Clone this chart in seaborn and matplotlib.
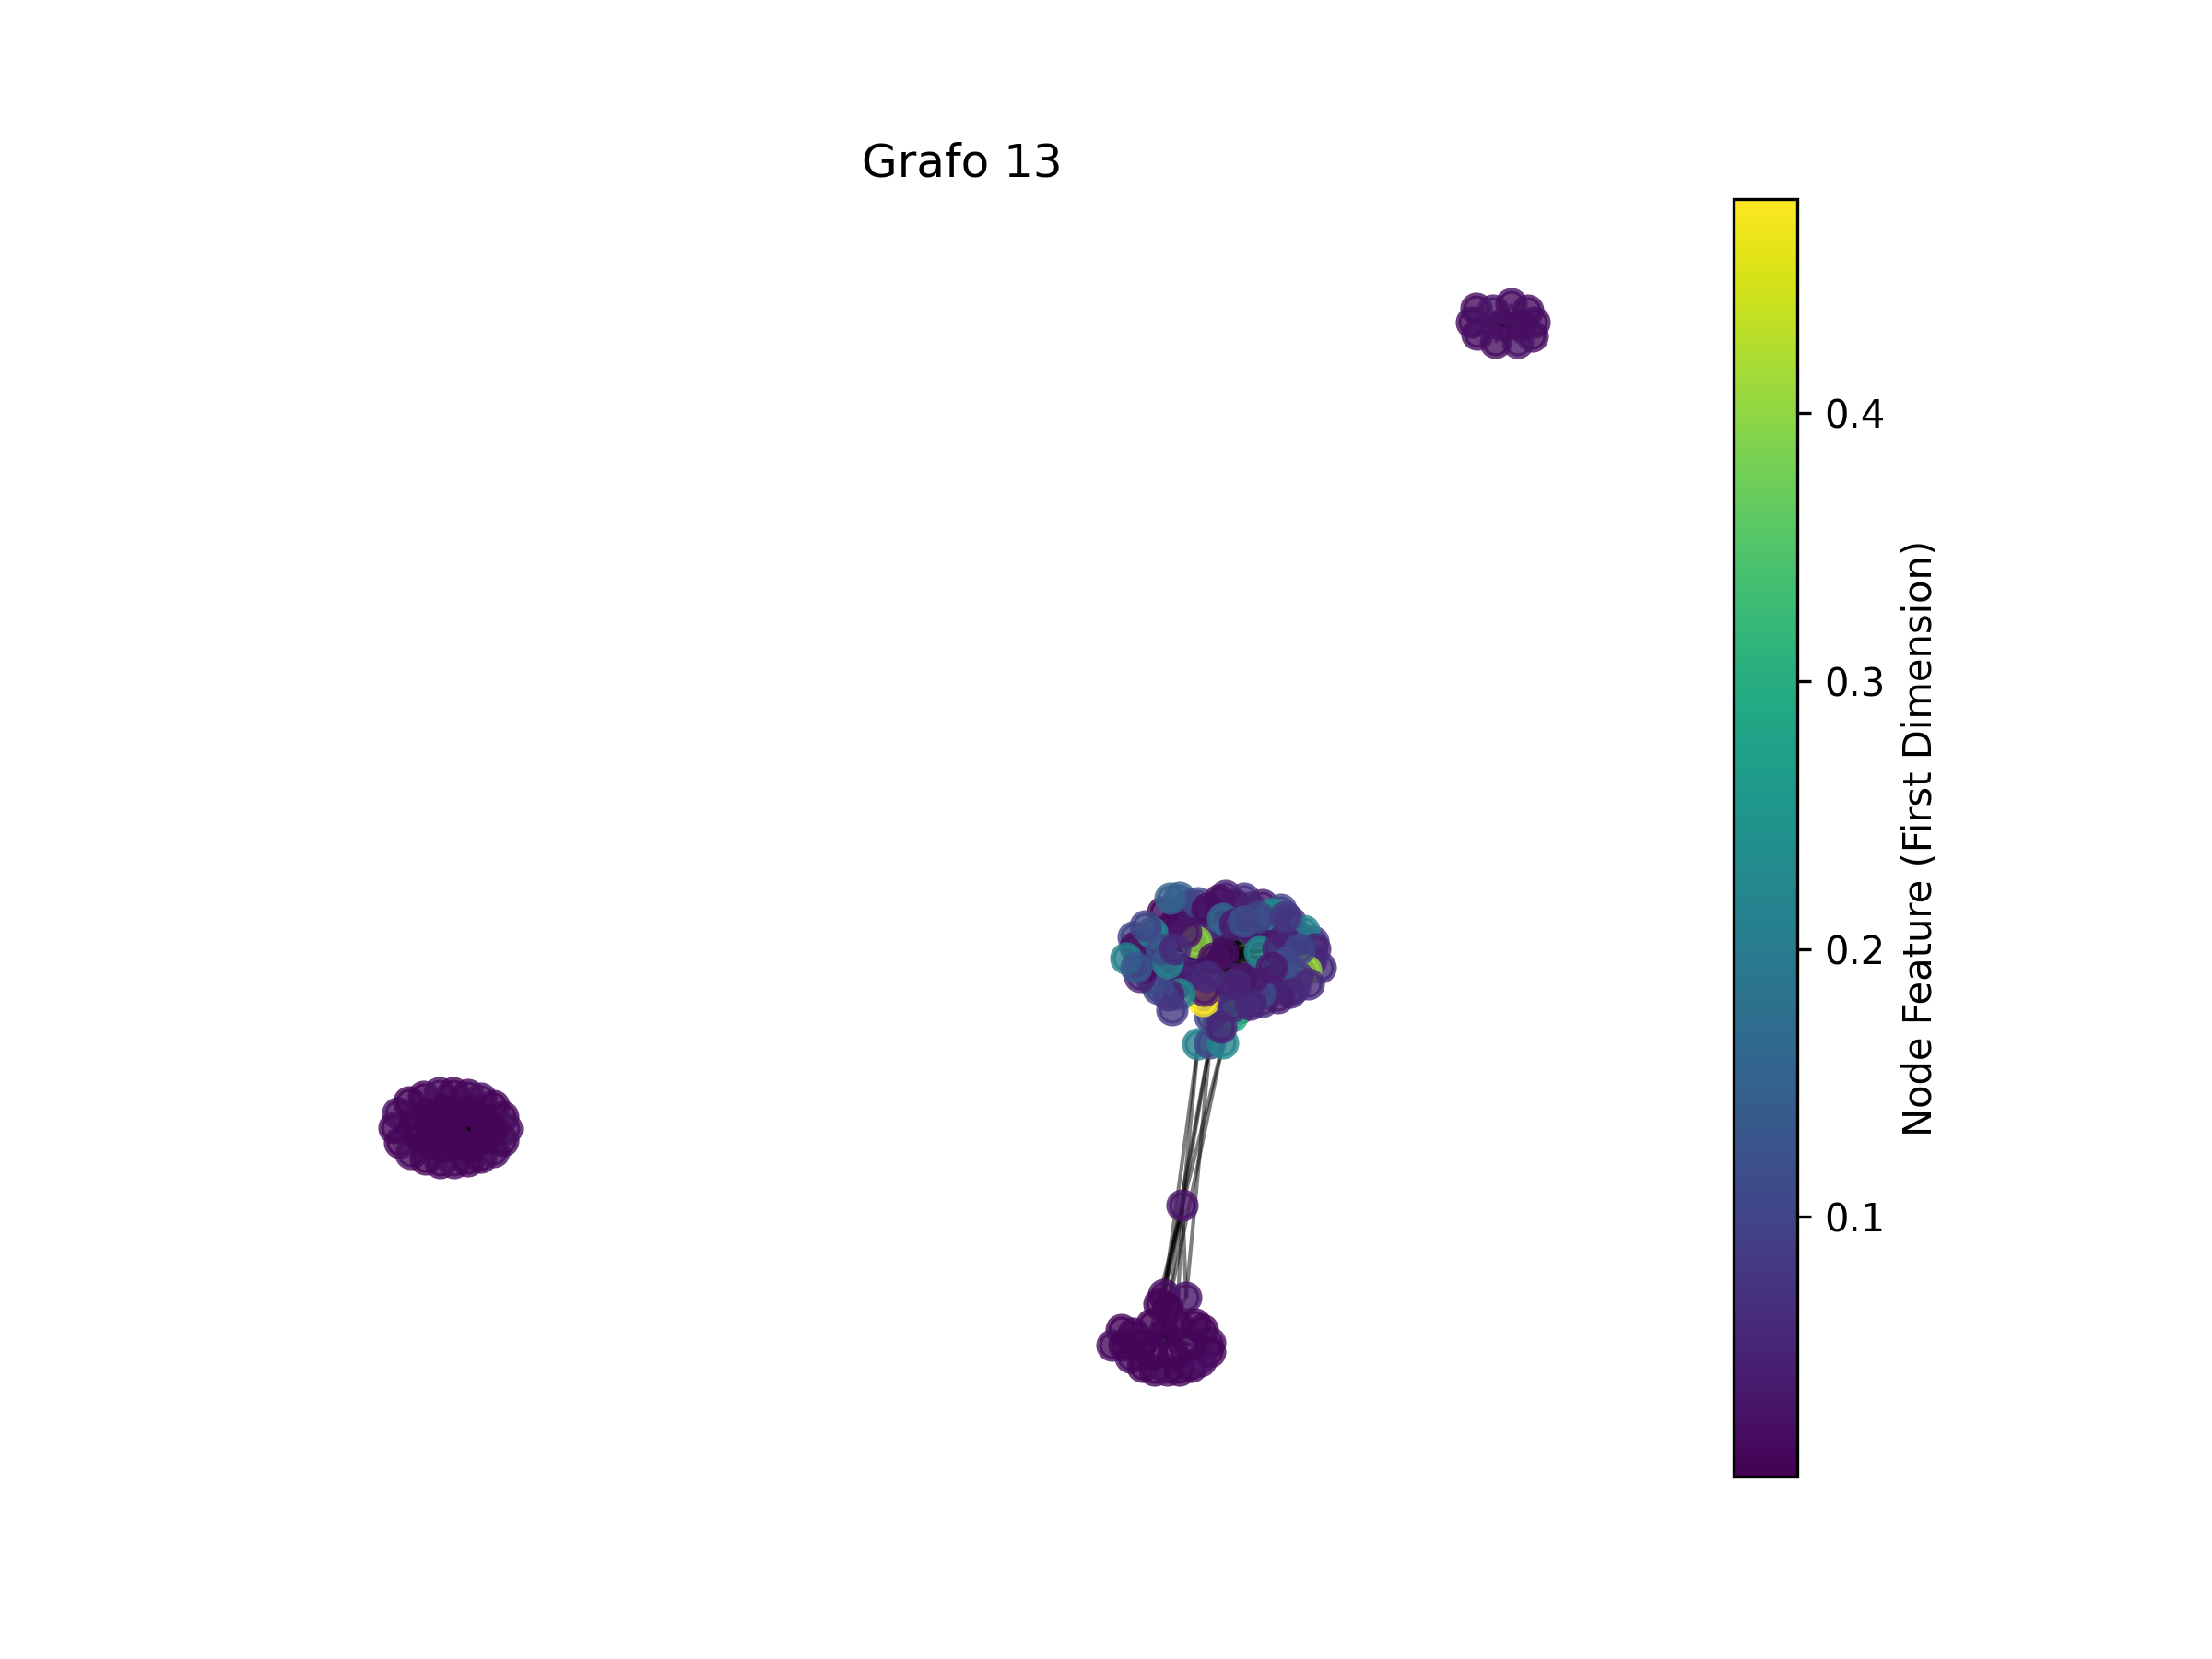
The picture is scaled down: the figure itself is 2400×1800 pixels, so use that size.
import numpy as np
import pandas as pd
import matplotlib
matplotlib.use("Agg")
import matplotlib.pyplot as plt
import seaborn as sns
from matplotlib.collections import LineCollection
from matplotlib.colors import Normalize

# layout positions (x, y) and first feature of every node, one list per component
# inner nodes of the big component (drawn first, under the others)
fill_x = [99.5, 101.5, 105.5, 107.5, 109.0, 111.0, 112.3, 110.0, 107.5,
          99.5, 97.5, 95.5, 94.0, 95.5, 97.0, 97.5, 100.0,
          103.5, 107.0, 110.5, 102.0, 104.5, 112.5, 93.0, 99.0, 103.0, 105.0,
          107.0, 109.0]
fill_y = [60.5, 59.5, 59.5, 59.5, 59.0, 58.5, 56.0, 56.0, 54.0,
          55.5, 55.0, 55.5, 57.5, 58.0, 59.5, 53.5, 53.0,
          52.5, 51.5, 53.0, 50.5, 50.8, 58.0, 58.5, 62.0, 63.0, 62.7,
          62.0, 61.5]
fill_feat = [0.04, 0.06, 0.11, 0.05, 0.04, 0.20, 0.06, 0.05, 0.03,
             0.04, 0.10, 0.06, 0.12, 0.05, 0.03, 0.05, 0.11,
             0.04, 0.06, 0.10, 0.12, 0.05, 0.08, 0.10, 0.06, 0.05, 0.07,
             0.04, 0.10]

main_x = [102.7, 96.2, 98.0, 98.3, 100.0, 101.0, 102.3, 104.0, 102.7, 104.0,
          105.7, 106.2, 108.0, 110.0, 111.5, 109.3, 112.7, 113.3, 111.7, 110.8,
          110.0, 108.7, 108.0, 106.7, 105.0, 106.0, 104.7, 106.7, 108.7, 103.7,
          101.3, 100.6, 100.7, 98.7, 98.0, 96.8, 95.7, 95.0, 93.7, 94.0,
          93.2, 92.2, 95.0, 94.3, 96.7, 99.8, 98.7, 101.7, 100.0, 101.3,
          102.7, 102.5, 97.0, 109.5, 111.0, 96.0, 97.5, 105.0, 106.5, 93.3,
          112.0, 105.7, 97.2, 103.8, 104.0, 101.0, 108.0, 109.5]
main_y = [56.8, 61.2, 62.8, 59.9, 62.2, 61.6, 62.5, 62.0, 60.5, 59.9,
          61.7, 59.2, 61.0, 60.2, 59.2, 58.2, 57.2, 55.2, 54.9, 54.2,
          52.5, 51.9, 52.9, 52.4, 51.9, 54.2, 54.0, 56.9, 57.2, 49.9,
          49.9, 51.6, 52.7, 54.3, 52.3, 52.2, 52.9, 53.9, 54.2, 55.2,
          57.4, 56.2, 59.0, 59.7, 55.7, 58.0, 59.0, 56.2, 46.9, 47.0,
          47.0, 48.7, 62.7, 55.7, 57.2, 57.2, 57.2, 60.2, 60.7, 55.2,
          53.4, 51.2, 50.6, 51.0, 53.4, 54.2, 55.2, 60.7]
main_feat = [0.02, 0.01, 0.14, 0.02, 0.10, 0.02, 0.02, 0.03, 0.16, 0.04,
             0.05, 0.03, 0.23, 0.05, 0.21, 0.04, 0.05, 0.06, 0.41, 0.08,
             0.05, 0.04, 0.05, 0.11, 0.10, 0.04, 0.03, 0.23, 0.05, 0.30,
             0.10, 0.48, 0.03, 0.04, 0.22, 0.05, 0.10, 0.11, 0.05, 0.02,
             0.02, 0.21, 0.23, 0.10, 0.21, 0.40, 0.03, 0.02, 0.21, 0.11,
             0.22, 0.05, 0.15, 0.12, 0.10, 0.12, 0.06, 0.12, 0.10, 0.13,
             0.06, 0.05, 0.08, 0.06, 0.05, 0.06, 0.04, 0.08]

bridge_x = [98.3]
bridge_y = [29.4]
bridge_feat = [0.03]

bottom_x = [96.3, 98.7, 95.8, 96.7, 91.7, 90.7, 100.5, 101.3, 101.3, 95.0,
            97.7, 96.3, 92.7, 94.0, 95.3, 96.7, 98.0, 99.3, 100.3, 92.0,
            93.7, 99.0, 95.0, 97.3, 99.7, 93.0]
bottom_y = [19.7, 19.4, 18.7, 18.2, 15.9, 14.2, 15.9, 14.5, 13.5, 16.5,
            16.5, 15.5, 12.9, 11.9, 11.5, 11.5, 11.5, 11.9, 12.5, 14.2,
            14.2, 14.2, 13.2, 13.2, 16.5, 15.5]
bottom_feat = [0.02, 0.03, 0.01, 0.01, 0.01, 0.02, 0.01, 0.02, 0.01, 0.01,
               0.01, 0.01, 0.02, 0.01, 0.01, 0.02, 0.01, 0.01, 0.02, 0.01,
               0.01, 0.01, 0.01, 0.01, 0.01, 0.01]

left_x = [12.8, 13.2, 13.4, 14.4, 14.6, 16.0, 16.2, 17.7, 17.8, 19.2,
          19.3, 20.8, 20.8, 22.2, 22.2, 23.6, 23.6, 24.6, 24.6, 25.0,
          15.0, 16.5, 16.5, 18.0, 18.0, 19.5, 19.5, 21.0, 21.0, 22.5,
          22.5, 19.0, 15.5, 23.5, 16.8, 22.8]
left_y = [37.8, 39.4, 36.2, 40.6, 35.0, 41.2, 34.4, 41.6, 34.0, 41.6,
          34.0, 41.4, 34.2, 41.0, 34.6, 40.2, 35.2, 39.0, 36.4, 37.7,
          38.2, 39.2, 36.4, 39.7, 35.7, 39.2, 36.2, 39.7, 35.7, 38.7,
          36.7, 37.7, 37.0, 37.7, 37.9, 37.7]
left_feat = [0.01, 0.02, 0.01, 0.01, 0.02, 0.01, 0.01, 0.02, 0.01, 0.01,
             0.02, 0.01, 0.01, 0.02, 0.01, 0.01, 0.02, 0.01, 0.01, 0.02,
             0.01, 0.01, 0.01, 0.01, 0.01, 0.01, 0.01, 0.01, 0.01, 0.01,
             0.01, 0.01, 0.01, 0.01, 0.01, 0.01]

top_x = [130.2, 129.7, 130.3, 132.0, 134.0, 135.8, 136.5, 136.3, 134.7, 132.3,
         133.0, 135.0]
top_y = [126.7, 125.2, 123.9, 126.5, 127.2, 126.5, 125.2, 123.7, 123.0, 123.0,
         124.9, 124.9]
top_feat = [0.02, 0.02, 0.02, 0.03, 0.02, 0.02, 0.02, 0.02, 0.03, 0.02,
            0.02, 0.02]

# edges between components: main trio -> bridge node -> bottom cluster
bridge_from_main = [48, 49, 50]
main_to_bottom = [(48, 0), (49, 1), (50, 3), (49, 0)]
bridge_to_bottom = [0, 1, 2, 3, 9, 10]
main_hub = 0
bottom_hub = 11
left_hubs = [34, 35]
top_hub = 10

nodes = pd.DataFrame({
    "x": fill_x + main_x + bridge_x + bottom_x + left_x + top_x,
    "y": fill_y + main_y + bridge_y + bottom_y + left_y + top_y,
    "feat": fill_feat + main_feat + bridge_feat + bottom_feat + left_feat + top_feat,
})
off_main = len(fill_x)
off_bridge = off_main + len(main_x)
off_bottom = off_bridge + 1
off_left = off_bottom + len(bottom_x)
off_top = off_left + len(left_x)

hub = off_main + main_hub
edges = [(hub, j) for j in range(off_bridge) if j != hub]
edges += [(off_main + i, off_bridge) for i in bridge_from_main]
edges += [(off_main + i, off_bottom + j) for i, j in main_to_bottom]
edges += [(off_bridge, off_bottom + j) for j in bridge_to_bottom]
edges += [(off_bottom + bottom_hub, off_bottom + j)
          for j in range(len(bottom_x)) if j != bottom_hub]
for h in left_hubs:
    edges += [(off_left + h, off_left + j)
              for j in range(len(left_x)) if j != h]
edges += [(off_top + top_hub, off_top + j)
          for j in range(len(top_x)) if j != top_hub]

vmin, vmax = 0.003, 0.480
norm = Normalize(vmin=vmin, vmax=vmax)

fig, ax = plt.subplots(figsize=(8, 6), dpi=300)
pts = nodes[["x", "y"]].to_numpy()
segs = [[pts[a], pts[b]] for a, b in edges]
ax.add_collection(LineCollection(segs, colors="k", linewidths=1.0,
                                 alpha=0.5, zorder=1))
sns.scatterplot(data=nodes, x="x", y="y", hue="feat", palette="viridis",
                hue_norm=norm, s=48, alpha=0.8, edgecolor="face",
                linewidth=1.5, legend=False, ax=ax, zorder=2)
ax.set_xlim(0, 148.8)
ax.set_ylim(0, 138.6)
ax.set_axis_off()
ax.set_title("Grafo 13")

sm = plt.cm.ScalarMappable(cmap="viridis", norm=norm)
sm.set_array([])
fig.colorbar(sm, ax=ax, label="Node Feature (First Dimension)")
fig.savefig("out.png", dpi=300)
